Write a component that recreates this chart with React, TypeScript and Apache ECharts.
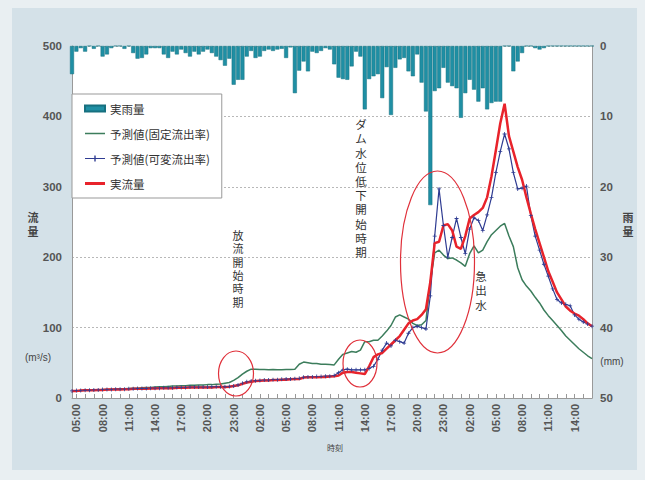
import React, { useEffect, useRef } from 'react';
import * as echarts from 'echarts';

// 30-minute steps from 04:30 (day 1) to 16:00 (day 3)
const pad = (n: number) => (n < 10 ? '0' + n : '' + n);
const categories: string[] = [];
for (let i = 0; i < 120; i++) {
  const mins = 4 * 60 + 30 + i * 30;
  categories.push(pad(Math.floor(mins / 60) % 24) + ':' + pad(mins % 60));
}

const leftTicks = [0, 100, 200, 300, 400, 500];
const rightTicks = [0, 10, 20, 30, 40, 50];

// 実雨量 (mm)
const rain = [
  4.0, 0.8, 0.3, 0.8, 0, 0.4, 0, 1.5, 1.2, 0.3,
  0, 0, 0.4, 0, 1.0, 1.8, 1.7, 1.2, 0.3, 0.3,
  0.3, 1.2, 1.7, 0.8, 1.2, 0.5, 1.0, 1.5, 0.8, 1.2,
  0.8, 0.5, 1.0, 1.5, 2.0, 2.8, 1.8, 5.5, 4.8, 4.8,
  1.5, 0.7, 1.7, 1.5, 0.7, 0.5, 0.7, 0.5, 0.4, 1.7,
  0.2, 6.7, 3.5, 2.2, 3.6, 0.8, 1.0, 0.7, 0.3, 0.5,
  2.6, 4.5, 4.7, 4.8, 2.9, 0.8, 1.5, 9.0, 4.7, 4.3,
  4.0, 7.4, 3.0, 9.8, 3.1, 1.9, 1.7, 3.6, 4.3, 1.2,
  5.2, 9.3, 22.6, 6.4, 6.0, 3.1, 5.2, 5.7, 6.0, 10.2,
  6.7, 4.8, 6.2, 7.9, 6.0, 9.0, 8.1, 7.9, 7.9, 0,
  0, 3.6, 2.2, 1.0, 0, 0, 0.3, 0.5, 0.3, 0,
  0, 0, 0, 0, 0, 0, 0, 0, 0, 0,
];

// 予測値(固定流出率)
const forecastFixed = [
  10, 10, 10.5, 11, 11, 11.5, 11.5, 12, 12, 12.5,
  12.5, 13, 13, 13.5, 14, 14, 14.5, 15, 15, 15.5,
  16, 16, 16.5, 17, 17, 17.5, 17.5, 18, 18, 18.5,
  18.5, 19, 19, 19.5, 20, 21, 22, 25, 29, 34,
  38, 41, 41, 40.5, 40.5, 40, 40.5, 40, 40, 40.5,
  40.5, 41, 48, 51, 50, 49, 49, 48, 48, 47.5,
  47, 55, 62, 64, 66, 65, 68, 80, 80, 82,
  82, 88, 95, 103, 115, 118, 115, 112, 106, 103,
  104, 110, 165, 206, 210, 203, 198, 199, 196, 192,
  187, 205, 216, 206, 210, 222, 232, 238, 244, 248,
  230, 215, 185, 168, 159, 152, 143, 135, 125, 117,
  110, 103, 96, 88, 82, 76, 70, 65, 60, 56,
];

// 予測値(可変流出率)
const forecastVariable = [
  10, 10.5, 10.5, 11, 11, 11.5, 11.5, 12, 12, 12,
  12.5, 12.5, 12.5, 13, 13, 13.5, 13.5, 13.5, 14, 14,
  14, 14.5, 14.5, 14.5, 15, 15, 15, 15.5, 15.5, 15.5,
  15.5, 15.5, 16, 16, 16, 16, 16.5, 17, 18.5, 21,
  23, 24, 24.5, 25, 25.5, 25.5, 26, 26, 26.5, 27,
  27, 27.5, 28, 29.5, 30, 30, 30.5, 30.5, 31, 31,
  32, 36, 40, 41, 40, 40, 40, 40, 42, 45,
  55, 68, 78, 74, 82, 80, 78, 92, 100, 102,
  100, 98, 145, 230, 297, 245, 200, 228, 255, 228,
  205, 240, 256, 252, 238, 260, 285, 320, 350, 375,
  354, 320, 297, 298, 301, 259, 230, 210, 190, 173,
  155, 140, 135, 133, 131, 118, 112, 108, 105, 102,
];

// 実流量
const actualFlow = [
  10, 10, 10.5, 11, 11, 11, 11.5, 11.5, 12, 12,
  12, 12, 12.5, 12.5, 13, 13, 13, 13, 13.5, 13.5,
  14, 14, 14, 14, 14.5, 14.5, 14.5, 15, 15, 15,
  15, 15, 15, 15.5, 15.5, 15.5, 16, 17, 18, 20,
  22, 23, 24, 24.5, 25, 25, 25.5, 25.5, 26, 26,
  26.5, 27, 27, 29, 29.5, 29.5, 29.5, 30, 30, 30.5,
  31, 32, 36, 37, 37, 36, 35, 34, 45, 58,
  62, 64, 70, 76, 82, 88, 97, 106, 110, 112,
  118, 126, 165, 220, 222, 245, 247, 238, 215, 212,
  230, 255, 260, 264, 270, 285, 315, 352, 390, 418,
  372, 350, 328, 310, 285, 262, 240, 220, 200, 180,
  165, 150, 140, 130, 124, 120, 117, 112, 106, 102,
];

const JP = '"Noto Sans CJK JP", sans-serif';
// primary Latin font with compact metrics, CJK glyphs fall back to Noto CJK
const VJP = '"Liberation Sans", "Noto Sans CJK JP", sans-serif';
const NUM = '"Liberation Sans", Arial, sans-serif';

const ICON_THIN = 'path://M0,0L0,0Z M0,4.2H20V5.8H0Z M20,10L20,10Z';
const ICON_CROSS = 'path://M0,0L0,0Z M0,4.4H20V5.6H0Z M9.3,2H10.7V8H9.3Z M20,10L20,10Z';
const ICON_THICK = 'path://M0,0L0,0Z M0,3.6H20V6.4H0Z M20,10L20,10Z';
const ICON_BAR = 'path://M0,0L0,0Z M0,2H20V8H0Z M20,10L20,10Z';

export default function App() {
  const ref = useRef<HTMLDivElement>(null);
  useEffect(() => {
    if (!ref.current) return;
    const chart = echarts.init(ref.current, undefined, { renderer: 'svg' });
    const vText = (s: string) => s.split('').join('\n');
    const annoStyle = (text: string, size: number, lh: number) => ({
      text: vText(text),
      font: `${size}px ${VJP}`,
      fill: '#333',
      align: 'center',
      verticalAlign: 'top',
      lineHeight: lh,
    });
    chart.setOption({
      animation: false,
      backgroundColor: '#e9eff2',
      grid: {
        left: 72, right: 53, top: 46, bottom: 82,
        show: true, backgroundColor: '#ffffff', borderWidth: 0,
      },
      legend: {
        orient: 'vertical',
        left: 72, top: 94,
        padding: [8, 12, 8, 12],
        itemGap: 12,
        itemWidth: 20,
        itemHeight: 10,
        backgroundColor: '#ffffff',
        borderColor: '#999',
        borderWidth: 1,
        textStyle: { fontFamily: JP, fontSize: 11.5, color: '#333', lineHeight: 13 },
        data: [
          { name: '実雨量', icon: ICON_BAR },
          { name: '予測値(固定流出率)', icon: ICON_THIN },
          { name: '予測値(可変流出率)', icon: ICON_CROSS },
          { name: '実流量', icon: ICON_THICK },
        ],
      },
      xAxis: {
        type: 'category',
        data: categories,
        boundaryGap: false,
        axisLine: { lineStyle: { color: '#999' } },
        axisTick: {
          inside: true, length: 4,
          interval: (idx: number) => idx % 2 === 1,
          lineStyle: { color: '#999' },
        },
        axisLabel: {
          rotate: 90,
          interval: (idx: number) => (idx - 1) % 6 === 0,
          fontFamily: NUM, fontWeight: 'bold', fontSize: 11, color: '#555', margin: 6,
        },
        splitLine: { show: false },
      },
      yAxis: [
        {
          type: 'value', min: leftTicks[0], max: leftTicks[leftTicks.length - 1], interval: 100,
          position: 'left',
          axisLine: { show: true, lineStyle: { color: '#999' } },
          axisTick: { show: false },
          axisLabel: { fontFamily: NUM, fontWeight: 'bold', fontSize: 11.5, color: '#555', margin: 10 },
          splitLine: { show: true, lineStyle: { color: '#b8b8b8', type: [2, 2], width: 1 } },
        },
        {
          type: 'value', min: rightTicks[0], max: rightTicks[rightTicks.length - 1], interval: 10,
          inverse: true,
          position: 'right',
          axisLine: { show: true, lineStyle: { color: '#999' } },
          axisTick: { show: false },
          axisLabel: { fontFamily: NUM, fontWeight: 'bold', fontSize: 11.5, color: '#555', margin: 8 },
          splitLine: { show: false },
        },
      ],
      series: [
        {
          name: '実雨量', type: 'bar', yAxisIndex: 1, data: rain,
          barCategoryGap: '8%',
          itemStyle: { color: '#1f8fa4', borderColor: '#16707f', borderWidth: 0.5 },
        },
        {
          name: '予測値(固定流出率)', type: 'line', data: forecastFixed,
          symbol: 'none',
          lineStyle: { color: '#3c7d5c', width: 1.5 },
          itemStyle: { color: '#3c7d5c' },
        },
        {
          name: '予測値(可変流出率)', type: 'line', data: forecastVariable,
          symbol: 'path://M4,0H6V4H10V6H6V10H4V6H0V4H4Z',
          symbolSize: 4,
          showSymbol: true,
          showAllSymbol: true,
          lineStyle: { color: '#2f3c92', width: 1.2 },
          itemStyle: { color: '#2f3c92' },
        },
        {
          name: '実流量', type: 'line', data: actualFlow,
          symbol: 'none',
          lineStyle: { color: '#e8232b', width: 2.5 },
          itemStyle: { color: '#e8232b' },
        },
      ],
      graphic: [
        { type: 'rect', z: -10, silent: true, shape: { x: 12, y: 8, width: 625, height: 462 }, style: { fill: '#d4e1e8' } },
        { type: 'text', x: 33, y: 211, style: { text: '流\n量', font: `bold 11px ${VJP}`, fill: '#444', align: 'center', verticalAlign: 'top', lineHeight: 14 } },
        { type: 'text', x: 38, y: 357, style: { text: '(m³/s)', font: `10px ${NUM}`, fill: '#444', align: 'center', verticalAlign: 'middle' } },
        { type: 'text', x: 628, y: 211, style: { text: '雨\n量', font: `bold 11px ${VJP}`, fill: '#444', align: 'center', verticalAlign: 'top', lineHeight: 14 } },
        { type: 'text', x: 612, y: 361, style: { text: '(mm)', font: `10px ${NUM}`, fill: '#444', align: 'center', verticalAlign: 'middle' } },
        { type: 'text', x: 335, y: 447, style: { text: '時刻', font: `8px ${JP}`, fill: '#444', align: 'center', verticalAlign: 'middle' } },
        { type: 'text', x: 238, y: 229, z: 100, style: annoStyle('放流開始時期', 11, 13.4) },
        { type: 'text', x: 361, y: 118, z: 100, style: annoStyle('ダム水位低下開始時期', 11.5, 14.2) },
        { type: 'text', x: 481, y: 270, z: 100, style: annoStyle('急出水', 11.5, 14.3) },
        { type: 'ellipse', z: 100, shape: { cx: 236, cy: 373.5, rx: 17.5, ry: 22.5 }, style: { fill: 'transparent', stroke: '#e0303a', lineWidth: 1.2 } },
        { type: 'ellipse', z: 100, shape: { cx: 360, cy: 363.5, rx: 17, ry: 23.5 }, style: { fill: 'transparent', stroke: '#e0303a', lineWidth: 1.2 } },
        { type: 'ellipse', z: 100, shape: { cx: 437.5, cy: 262, rx: 37, ry: 91 }, style: { fill: 'transparent', stroke: '#e0303a', lineWidth: 1.2 } },
      ],
    });
    return () => chart.dispose();
  }, []);
  return (
    <div
      ref={ref}
      style={{ position: 'fixed', left: 0, top: 0, width: 645, height: 480 }}
    />
  );
}
